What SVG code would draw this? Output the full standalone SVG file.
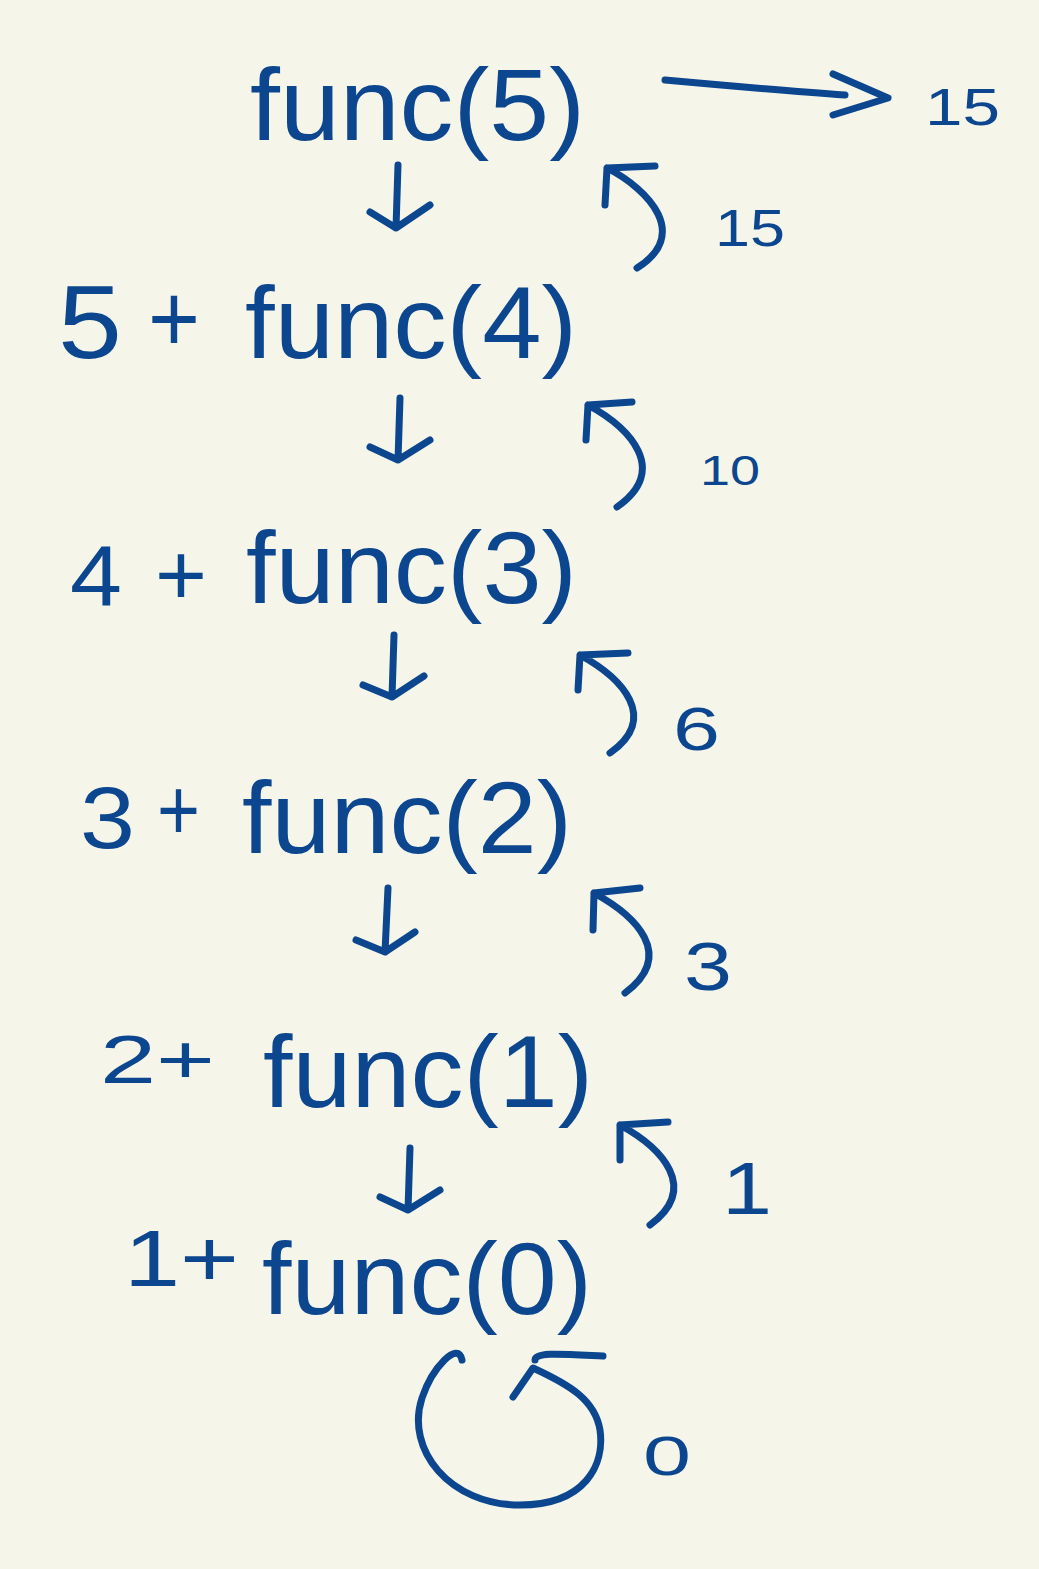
<svg xmlns="http://www.w3.org/2000/svg" width="1039" height="1569" viewBox="0 0 1039 1569">
<style>
.t{font-family:"Liberation Sans",Arial,sans-serif;fill:#0B468F;}
.f{font-size:102px;}
.lbl{font-family:"Liberation Sans",Arial,sans-serif;fill:#0B468F;}
.c{fill:none;stroke:#0B468F;stroke-width:7;stroke-linecap:round;stroke-linejoin:round;}
</style>
<rect width="1039" height="1569" fill="#F5F5EA"/>
<g id="node-func5">
<text class="t f" x="250" y="140" textLength="335" lengthAdjust="spacingAndGlyphs">func(5)</text>
</g>
<g id="node-func4">
<text class="t" x="58" y="358" font-size="104" textLength="64" lengthAdjust="spacingAndGlyphs">5</text>
<text class="t" x="148" y="352" font-size="96" textLength="52" lengthAdjust="spacingAndGlyphs">+</text>
<text class="t f" x="245" y="358" textLength="332" lengthAdjust="spacingAndGlyphs">func(4)</text>
</g>
<g id="node-func3">
<text class="t" x="70" y="605" font-size="85" textLength="52" lengthAdjust="spacingAndGlyphs">4</text>
<text class="t" x="155" y="605" font-size="88" textLength="52" lengthAdjust="spacingAndGlyphs">+</text>
<text class="t f" x="246" y="603" textLength="331" lengthAdjust="spacingAndGlyphs">func(3)</text>
</g>
<g id="node-func2">
<text class="t" x="80" y="848" font-size="88" textLength="55" lengthAdjust="spacingAndGlyphs">3</text>
<text class="t" x="157" y="840" font-size="88" textLength="43" lengthAdjust="spacingAndGlyphs">+</text>
<text class="t f" x="242" y="853" textLength="330" lengthAdjust="spacingAndGlyphs">func(2)</text>
</g>
<g id="node-func1">
<text class="t" x="100" y="1083" font-size="68" textLength="115" lengthAdjust="spacingAndGlyphs">2+</text>
<text class="t f" x="263" y="1107" textLength="330" lengthAdjust="spacingAndGlyphs">func(1)</text>
</g>
<g id="node-func0">
<text class="t" x="124" y="1286" font-size="80" textLength="115" lengthAdjust="spacingAndGlyphs">1+</text>
<text class="t f" x="262" y="1314" textLength="330" lengthAdjust="spacingAndGlyphs">func(0)</text>
</g>
<g id="connectors">
<path class="c" d="M665,80 C720,85 800,92 845,95"/>
<path class="c" d="M833,74 L888,98 L833,115"/>
<path class="c" d="M398,165 L396,228 M370,212 L396,228 L430,205"/>
<path class="c" d="M400,398 L398,460 M370,447 L398,460 L430,440"/>
<path class="c" d="M394,635 L392,697 M363,685 L392,697 L424,676"/>
<path class="c" d="M388,888 L385,952 M356,940 L385,952 L415,932"/>
<path class="c" d="M410,1148 L408,1210 M380,1197 L408,1210 L440,1190"/>
<path class="c" d="M605,205 L607,168 L655,166 M607,168 C650,190 690,235 637,268"/>
<path class="c" d="M586,440 L588,405 L632,402 M588,405 C630,428 670,470 617,507"/>
<path class="c" d="M578,690 L580,655 L628,653 M580,655 C622,678 660,718 610,753"/>
<path class="c" d="M593,930 L594,893 L640,888 M594,893 C636,916 676,955 625,993"/>
<path class="c" d="M620,1160 L620,1125 L668,1122 M620,1125 C662,1148 700,1188 650,1225"/>
<path class="c" d="M462,1360 C458,1340 432,1368 422,1398 C405,1450 450,1505 520,1505 C585,1505 605,1465 600,1430 C595,1400 570,1385 533,1368 L513,1397"/>
<path class="c" d="M535,1360 C535,1352 560,1354 603,1356"/>
<text class="lbl" x="925" y="125" font-size="52" textLength="75" lengthAdjust="spacingAndGlyphs">15</text>
<text class="lbl" x="715" y="246" font-size="52" textLength="70" lengthAdjust="spacingAndGlyphs">15</text>
<text class="lbl" x="700" y="485" font-size="42" textLength="60" lengthAdjust="spacingAndGlyphs">10</text>
<text class="lbl" x="673" y="750" font-size="62" textLength="47" lengthAdjust="spacingAndGlyphs">6</text>
<text class="lbl" x="684" y="990" font-size="68" textLength="48" lengthAdjust="spacingAndGlyphs">3</text>
<text class="lbl" x="722" y="1214" font-size="74" textLength="50" lengthAdjust="spacingAndGlyphs">1</text>
<text class="lbl" x="643" y="1475" font-size="55" textLength="48" lengthAdjust="spacingAndGlyphs">0</text>
</g>
</svg>
